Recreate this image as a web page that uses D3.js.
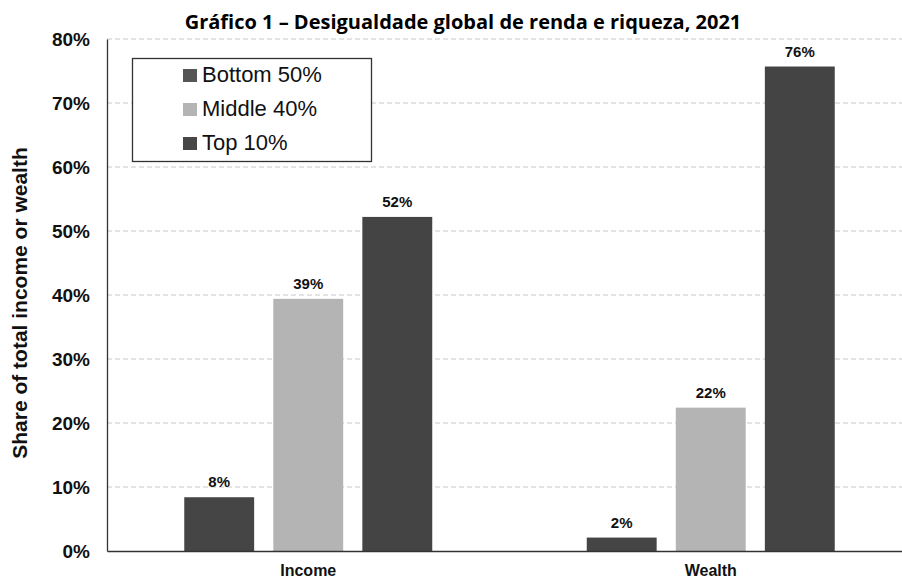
<!DOCTYPE html>
<html>
<head>
<meta charset="utf-8">
<script src="https://cdn.jsdelivr.net/npm/d3@7"></script>
<style>
  html, body { margin: 0; padding: 0; background: #fff; }
  svg { display: block; }
</style>
</head>
<body>
<svg id="chart" width="902" height="579"></svg>
<script>
// Shares of global income and wealth by group, 2021 (percent)
const categories = ["Income", "Wealth"];
const groups = ["Bottom 50%", "Middle 40%", "Top 10%"];
const bottom50 = [8.4, 2.1];
const middle40 = [39.4, 22.4];
const top10 = [52.2, 75.7];
const yTicks = [0, 10, 20, 30, 40, 50, 60, 70, 80];

const titleText = "Gráfico 1 – Desigualdade global de renda e riqueza, 2021";
const yTitle = "Share of total income or wealth";

const seriesValues = [bottom50, middle40, top10];
const barColors = ["#454545", "#b4b4b4", "#444444"];
const swatchColors = ["#555555", "#b4b4b4", "#474747"];

const svg = d3.select("#chart");
const W = 902, H = 579;
const m = { left: 107, right: -10, top: 39, bottom: 28 };
const sans = "Liberation Sans, Arial, sans-serif";

const x0 = d3.scaleBand()
  .domain(categories)
  .range([m.left, W - m.right])
  .paddingInner(0)
  .paddingOuter(0);

const x1 = d3.scaleBand()
  .domain(groups)
  .range([0, 248])
  .paddingInner(0.215)
  .paddingOuter(0);

const y = d3.scaleLinear()
  .domain([0, 80])
  .range([H - m.bottom, m.top]);

// Dashed horizontal gridlines
svg.append("g")
  .selectAll("line")
  .data(yTicks.filter(t => t > 0))
  .join("line")
  .attr("x1", m.left)
  .attr("x2", W)
  .attr("y1", d => y(d))
  .attr("y2", d => y(d))
  .attr("stroke", "#c8c8c8")
  .attr("stroke-width", 1)
  .attr("stroke-dasharray", "5,3");

// Y axis with percent labels
const yAxis = svg.append("g")
  .attr("transform", `translate(${m.left},0)`)
  .call(d3.axisLeft(y).tickValues(yTicks).tickFormat(d => d + "%").tickSize(0).tickPadding(17));
yAxis.select(".domain").attr("stroke", "#333").attr("stroke-width", 1.3);
yAxis.selectAll("text")
  .attr("font-family", sans)
  .attr("font-weight", "bold")
  .attr("font-size", 19)
  .attr("fill", "#111");

// Bars
const groupsG = svg.append("g")
  .selectAll("g")
  .data(categories)
  .join("g")
  .attr("transform", d => `translate(${x0(d) + (x0.bandwidth() - 248) / 2},0)`);

const cells = groupsG.selectAll("g.cell")
  .data((c, ci) => groups.map((g, gi) => ({ group: g, gi, value: seriesValues[gi][ci] })))
  .join("g")
  .attr("class", "cell");

cells.append("rect")
  .attr("x", d => x1(d.group))
  .attr("width", x1.bandwidth())
  .attr("y", d => y(d.value))
  .attr("height", d => y(0) - y(d.value))
  .attr("fill", d => barColors[d.gi]);

cells.append("text")
  .attr("x", d => x1(d.group) + x1.bandwidth() / 2)
  .attr("y", d => y(d.value) - 10)
  .attr("text-anchor", "middle")
  .attr("font-family", sans)
  .attr("font-weight", "bold")
  .attr("font-size", 15)
  .attr("fill", "#111")
  .text(d => Math.round(d.value) + "%");

// X axis baseline and category labels
const xAxis = svg.append("g")
  .attr("transform", `translate(0,${y(0)})`)
  .call(d3.axisBottom(x0).tickSize(0).tickPadding(14));
xAxis.select(".domain").attr("stroke", "#333").attr("stroke-width", 1.3);
xAxis.selectAll("text")
  .attr("font-family", sans)
  .attr("font-weight", "bold")
  .attr("font-size", 16)
  .attr("fill", "#111");

// Y axis title
svg.append("text")
  .attr("transform", `translate(27,${(y(0) + y(80)) / 2 + 8}) rotate(-90)`)
  .attr("text-anchor", "middle")
  .attr("font-family", sans)
  .attr("font-weight", "bold")
  .attr("font-size", 21)
  .attr("fill", "#111")
  .text(yTitle);

// Chart title
svg.append("text")
  .attr("x", 463)
  .attr("y", 29)
  .attr("text-anchor", "middle")
  .attr("font-family", "Open Sans, sans-serif")
  .attr("font-weight", "bold")
  .attr("font-size", 20)
  .attr("fill", "#000")
  .text(titleText);

// Legend
const legend = svg.append("g");
legend.append("rect")
  .attr("x", 132.5)
  .attr("y", 58.5)
  .attr("width", 239)
  .attr("height", 103)
  .attr("fill", "#fff")
  .attr("stroke", "#333")
  .attr("stroke-width", 1.3);

const items = legend.selectAll("g.item")
  .data(groups)
  .join("g")
  .attr("class", "item")
  .attr("transform", (d, i) => `translate(183,${82 + i * 34})`);

items.append("rect")
  .attr("x", 0)
  .attr("y", -13)
  .attr("width", 14)
  .attr("height", 13)
  .attr("fill", (d, i) => swatchColors[i]);

items.append("text")
  .attr("x", 19)
  .attr("y", 0)
  .attr("font-family", sans)
  .attr("font-size", 22)
  .attr("fill", "#111")
  .text(d => d);
</script>
</body>
</html>
